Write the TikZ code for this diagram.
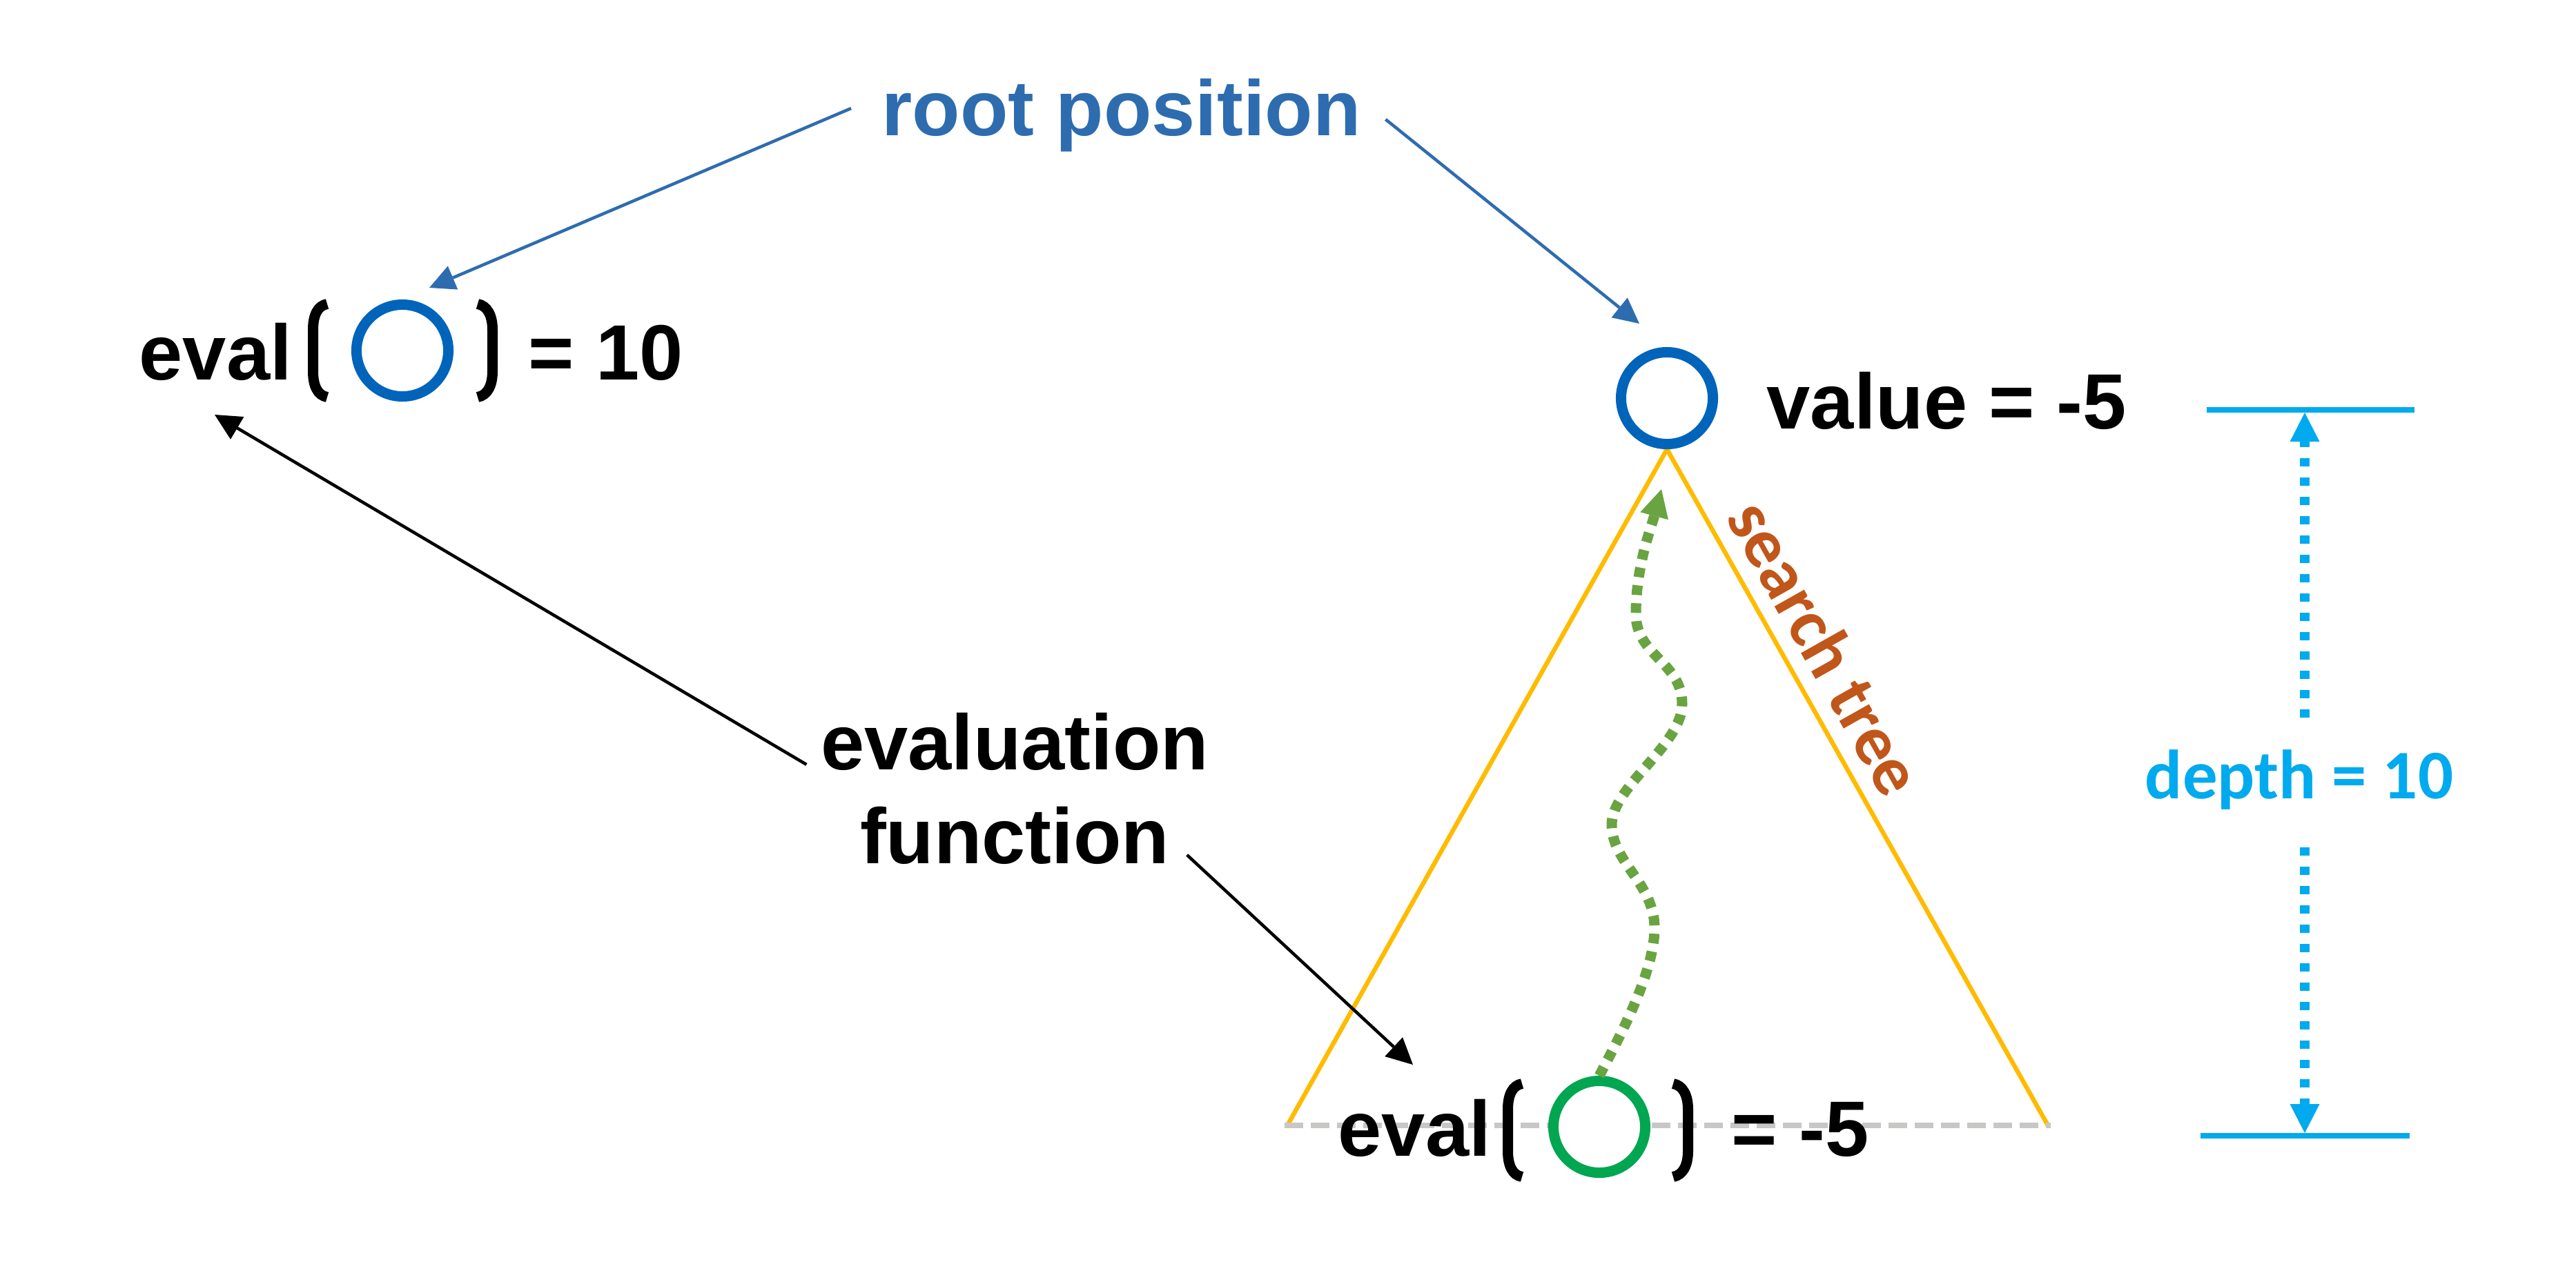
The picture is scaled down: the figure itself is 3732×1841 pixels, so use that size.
\documentclass[tikz,border=0pt]{standalone}
\usepackage{fontspec}
\setmainfont{Liberation Sans}
\newfontfamily\calib{Carlito}
\usetikzlibrary{arrows.meta,calc}
\definecolor{rootblue}{HTML}{2E6CB0}
\definecolor{circblue}{HTML}{0064BA}
\definecolor{circgreen}{HTML}{00A650}
\definecolor{pathgreen}{HTML}{69A441}
\definecolor{treeorange}{HTML}{FFBB00}
\definecolor{treetext}{HTML}{C0561A}
\definecolor{depthblue}{HTML}{00AAEE}
\definecolor{dashgray}{HTML}{C9C7C5}
\begin{document}
\begin{tikzpicture}[x=0.01cm,y=-0.01cm,
  bigtext/.style={font=\fontsize{32.3pt}{38.7pt}\selectfont\bfseries, inner sep=0pt},
  posnode/.style={circle, line width=0.15cm, minimum size=1.33cm, inner sep=0pt, fill=white},
  bluearr/.style={draw=rootblue, line width=0.045cm, -{Triangle[length=0.37cm,width=0.37cm,line width=0pt]}},
  blackarr/.style={draw=black, line width=0.045cm, -{Triangle[length=0.38cm,width=0.38cm,line width=0pt]}},
  greenarr/.style={draw=pathgreen, line width=0.15cm, dash pattern=on 0.14cm off 0.12cm, -{Triangle[length=0.40cm,width=0.42cm,line width=0pt]}},
  deptharr/.style={draw=depthblue, line width=0.14cm, dash pattern=on 0.12cm off 0.16cm, -{Triangle[length=0.42cm,width=0.43cm,line width=0pt]}},
  depthtick/.style={draw=depthblue, line width=0.08cm},
  treeline/.style={draw=treeorange, line width=0.065cm, line join=miter},
  grayline/.style={draw=dashgray, line width=0.08cm, dash pattern=on 0.27cm off 0.11cm},
  treelabel/.style={font=\calib\fontsize{29pt}{34pt}\selectfont\bfseries, text=treetext, inner xsep=0pt, inner ysep=0.23cm},
  depthlabel/.style={font=\calib\fontsize{28.7pt}{34pt}\selectfont\bfseries, text=depthblue, inner sep=0pt},
  lbrk/.pic={\draw[line width=0.15cm] (28,7.5) .. controls (14,10) and (7.5,24) .. (7.5,45) -- (7.5,105) .. controls (7.5,126) and (14,140) .. (28,142.5);},
  rbrk/.pic={\draw[line width=0.15cm] (0,7.5) .. controls (14,10) and (21.5,24) .. (21.5,45) -- (21.5,105) .. controls (21.5,126) and (14,140) .. (0,142.5);}
]
\fill[white] (0,0) rectangle (3732,1841);
\useasboundingbox (0,0) rectangle (3732,1841);

% coordinates
\coordinate (tl) at (1865,1631);
\coordinate (tr) at (2967,1631);
\coordinate (gl) at (1861,1631);
\coordinate (gr) at (2971,1631);
\coordinate (tipRL) at (622,417);
\coordinate (tipRR) at (2375,469);
\coordinate (tipA) at (311,601);
\coordinate (tipB) at (2047,1543);
\coordinate (gtip) at (2407,709);
\coordinate (dtop) at (3339,598);
\coordinate (dbot) at (3339,1642);
\coordinate (tickTL) at (3197,594);
\coordinate (tickTR) at (3498,594);
\coordinate (tickBL) at (3188,1646);
\coordinate (tickBR) at (3491,1646);

% root circle position (reference for the apex)
\path (2415,577) node[posnode, draw=none, fill=none] (c0) {};

% search tree triangle
\draw[treeline] (tl) -- (c0.south) -- (tr);
\path (c0.south) -- (tr) node[pos=0.323, sloped, anchor=south, treelabel] (st) {search tree};

% gray dashed base line
\draw[grayline] (gl) -- (gr);

% circles
\node[posnode, draw=circblue] (c0b) at (c0) {};
\node[posnode, draw=circblue] (c1) at (583,508) {};
\node[posnode, draw=circgreen] (c2) at (2317,1633) {};

% top eval
\node[bigtext, anchor=base west] (eval1) at (201,550) {eval};
\pic at (446,433) {lbrk};
\pic at (692,433) {rbrk};
\node[bigtext, anchor=base west] (res1) at (765,550) {= 10};

% bottom eval
\node[bigtext, anchor=base west] (eval2) at (1938,1675) {eval};
\pic at (2177,1563) {lbrk};
\pic at (2424,1563) {rbrk};
\node[bigtext, anchor=base west] (res2) at (2508,1675) {= -5};

% value
\node[bigtext, anchor=base west] (value) at (2559,621) {value = -5};

% root position
\node[bigtext, anchor=base west, text=rootblue] (root) at (1277,196) {root position};

% evaluation function
\node[bigtext, anchor=base] (evfn1) at (1470,1115) {evaluation};
\node[bigtext, anchor=base] (evfn2) at (1470,1251) {function};

% arrows
\draw[bluearr] ($(root.base west)+(-44,-39)$) -- (tipRL);
\draw[bluearr] ($(root.base east)+(35,-23)$) -- (tipRR);
\draw[blackarr] ($(evfn1.base west)+(-20,-7)$) -- (tipA);
\draw[blackarr] ($(evfn2.base east)+(25,-12)$) -- (tipB);

% green path
\draw[greenarr] (c2.north) .. controls (2345,1505) and (2397,1410) .. (2397,1345)
  .. controls (2397,1280) and (2335,1250) .. (2335,1195)
  .. controls (2335,1140) and (2437,1080) .. (2437,1020)
  .. controls (2437,960) and (2370,950) .. (2370,890)
  .. controls (2370,820) and (2392,765) .. (gtip);

% depth
\draw[depthtick] (tickTL) -- (tickTR);
\draw[depthtick] (tickBL) -- (tickBR);
\node[depthlabel, anchor=base] (depth) at (3331,1157) {depth = 10};
\draw[deptharr] ($(depth.base -| dtop)+(0,-117)$) -- (dtop);
\draw[deptharr] ($(depth.base -| dbot)+(0,71)$) -- (dbot);
\end{tikzpicture}
\end{document}
